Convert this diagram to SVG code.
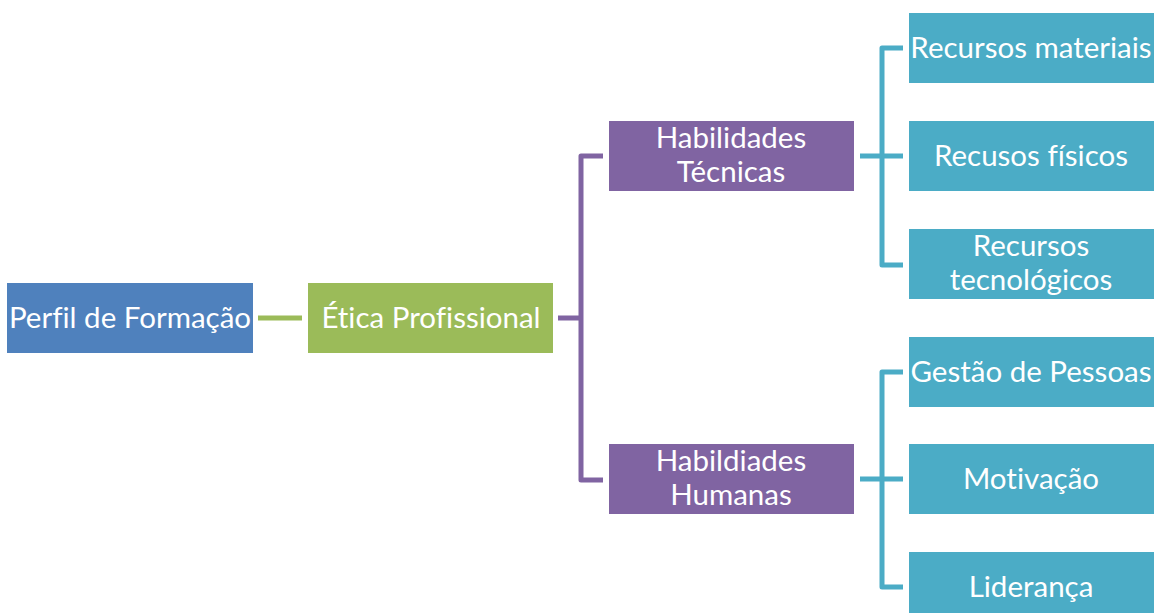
<svg xmlns="http://www.w3.org/2000/svg" width="1157" height="613" viewBox="0 0 1157 613">
<style>
text{font-family:Lato,"Liberation Sans",sans-serif;font-size:29.5px;fill:#fff;text-anchor:middle;font-variant-ligatures:none;font-feature-settings:"liga" 0,"clig" 0}
.blue{fill:#4F81BD}.green{fill:#9BBB59}.purple{fill:#8064A2}.teal{fill:#4BACC6}
.c{fill:none;stroke-width:5;stroke-linejoin:round}
</style>
<rect width="1157" height="613" fill="#fff"/>
<g id="connectors">
<path class="c" stroke="#9BBB59" d="M258,318H302"/>
<path class="c" stroke="#8064A2" d="M558,318H581M603,156H581V480H603"/>
<path class="c" stroke="#4BACC6" d="M860,156H903M903,48H882V265H903"/>
<path class="c" stroke="#4BACC6" d="M860,479H903M903,372H882V587H903"/>
</g>
<g id="perfil"><rect class="blue" x="7" y="283" width="246" height="70"/><text x="130" y="328">Perfil de Formação</text></g>
<g id="etica"><rect class="green" x="308" y="283" width="245" height="70"/><text x="431" y="328">Ética Profissional</text></g>
<g id="tecnicas"><rect class="purple" x="609" y="121" width="245" height="70"/><text x="731" y="148">Habilidades</text><text x="731" y="182">Técnicas</text></g>
<g id="humanas"><rect class="purple" x="609" y="444" width="245" height="70"/><text x="731" y="471">Habildiades</text><text x="731" y="505">Humanas</text></g>
<g id="materiais"><rect class="teal" x="909" y="13" width="245" height="70"/><text x="1031" y="58">Recursos materiais</text></g>
<g id="fisicos"><rect class="teal" x="909" y="121" width="245" height="70"/><text x="1031" y="166">Recusos físicos</text></g>
<g id="tecnologicos"><rect class="teal" x="909" y="229" width="245" height="70"/><text x="1031" y="256">Recursos</text><text x="1031" y="290">tecnológicos</text></g>
<g id="pessoas"><rect class="teal" x="909" y="337" width="245" height="70"/><text x="1031" y="382">Gestão de Pessoas</text></g>
<g id="motivacao"><rect class="teal" x="909" y="444" width="245" height="70"/><text x="1031" y="489">Motivação</text></g>
<g id="lideranca"><rect class="teal" x="909" y="552" width="245" height="70"/><text x="1031" y="597">Liderança</text></g>
</svg>
